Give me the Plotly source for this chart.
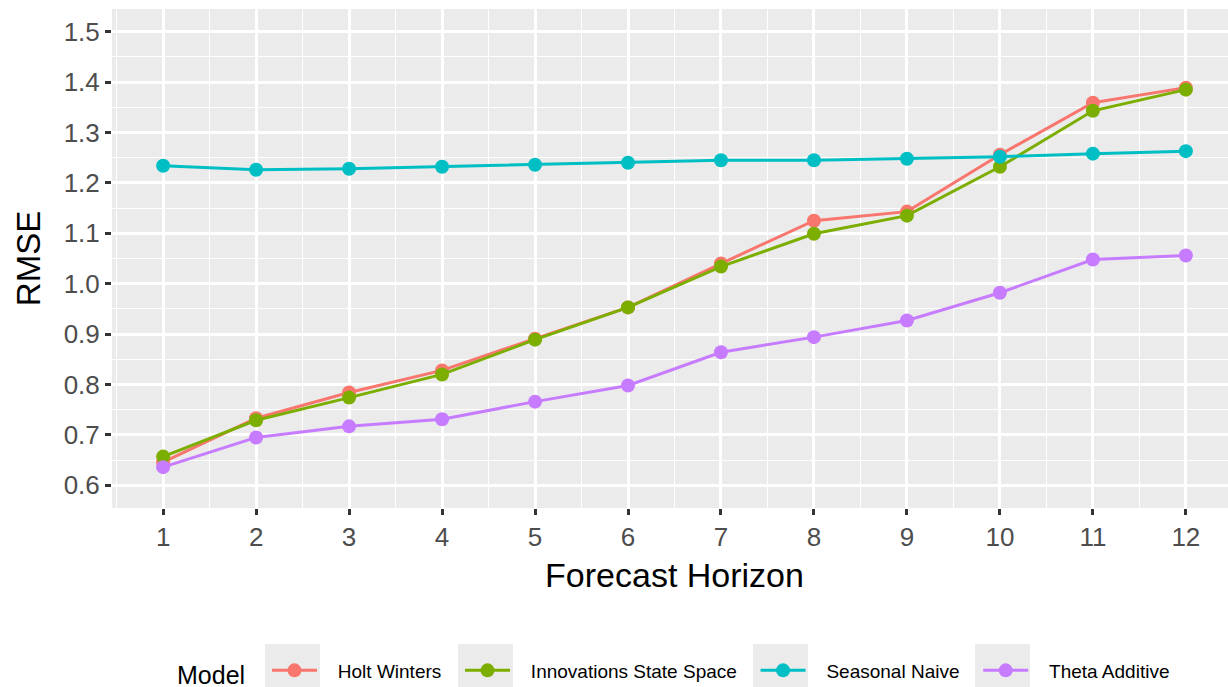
import plotly.graph_objects as go

horizon = list(range(1, 13))
holt_winters = [0.646, 0.733, 0.784, 0.828, 0.891, 0.953, 1.040, 1.125, 1.143, 1.256, 1.359, 1.389]
innovations_ss = [0.657, 0.729, 0.774, 0.820, 0.889, 0.953, 1.034, 1.099, 1.135, 1.232, 1.343, 1.385]
seasonal_naive = [1.234, 1.226, 1.228, 1.232, 1.236, 1.240, 1.245, 1.245, 1.248, 1.252, 1.258, 1.263]
theta_additive = [0.636, 0.695, 0.717, 0.731, 0.766, 0.798, 0.864, 0.894, 0.927, 0.982, 1.048, 1.056]

series = [
    ("Holt Winters", holt_winters, "#F8766D"),
    ("Innovations State Space", innovations_ss, "#7CAE00"),
    ("Seasonal Naive", seasonal_naive, "#00BFC4"),
    ("Theta Additive", theta_additive, "#C77CFF"),
]
y_ticks = [0.6, 0.7, 0.8, 0.9, 1.0, 1.1, 1.2, 1.3, 1.4, 1.5]

NB = "\u00a0"
fig = go.Figure()
for name, vals, col in series:
    fig.add_trace(go.Scatter(
        x=horizon, y=vals, name=NB * 3 + name + NB * 2 + "\u2006", mode="lines+markers",
        line=dict(color=col, width=3),
        marker=dict(color=col, size=14),
    ))

# legend key backgrounds (pixel layout of the page -> paper coords)
FIG_H = 710
L, T, W, H = 112, 9, 1125, 499
def px_x(p):
    return (p - L) / W
def px_y(p):
    return (T + H - p) / H
key_left = [265, 458, 753, 975]
for kx in key_left:
    fig.add_shape(type="rect", xref="paper", yref="paper",
                  x0=px_x(kx), x1=px_x(kx + 55), y0=px_y(700), y1=px_y(644),
                  fillcolor="#EBEBEB", line=dict(width=0), layer="below")

fig.update_layout(
    width=1237, height=FIG_H,
    margin=dict(l=L, r=0, t=T, b=FIG_H - T - H),
    paper_bgcolor="white", plot_bgcolor="#EBEBEB",
    font=dict(family="Liberation Sans, Arial, sans-serif", color="black"),
    showlegend=True,
    legend=dict(
        orientation="h", x=px_x(175), xanchor="left", y=px_y(673), yanchor="middle",
        title=dict(text="Model" + NB * 2, font=dict(size=25), side="left"),
        font=dict(size=19), itemwidth=45, bgcolor="rgba(0,0,0,0)",
    ),
)
fig.update_xaxes(
    range=[0.45, 12.55], tickvals=horizon, ticktext=[str(h) for h in horizon],
    showgrid=True, gridcolor="white", gridwidth=2.5, zeroline=False,
    ticks="outside", ticklen=6, tickwidth=2.5, tickcolor="#333333",
    tickfont=dict(size=26, color="#4D4D4D"),
    minor=dict(tickvals=[h + 0.5 for h in range(0, 13)], showgrid=True, gridcolor="white", gridwidth=1.3, ticks=""),
    title=dict(text="Forecast Horizon", font=dict(size=34, color="black"), standoff=11),
    showline=False, automargin=False,
)
fig.update_yaxes(
    range=[0.555, 1.545], tickvals=y_ticks, ticktext=[f"{v:.1f}" for v in y_ticks],
    showgrid=True, gridcolor="white", gridwidth=2.5, zeroline=False,
    ticks="outside", ticklen=6, tickwidth=2.5, tickcolor="#333333",
    tickfont=dict(size=26, color="#4D4D4D"),
    minor=dict(tickvals=[v + 0.05 for v in y_ticks[:-1]], showgrid=True, gridcolor="white", gridwidth=1.3, ticks=""),
    title=dict(text="RMSE", font=dict(size=33, color="black"), standoff=13),
    showline=False, automargin=False,
)

fig.write_html(
    "out.html",
    config={"displayModeBar": False},
    post_script="document.body.style.margin='0';document.body.style.overflow='hidden';",
)
